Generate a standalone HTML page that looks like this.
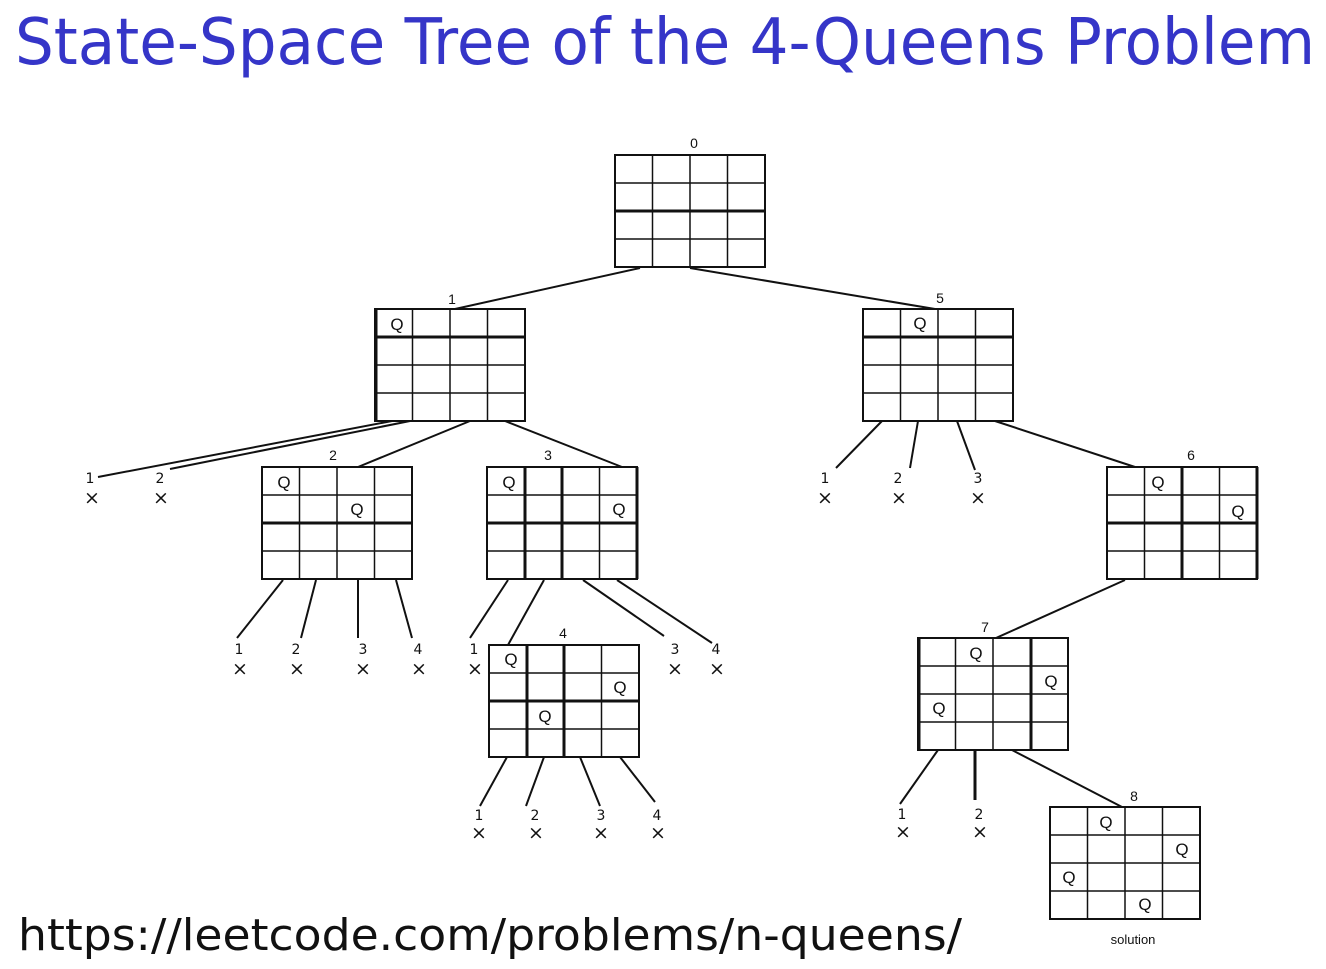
<!DOCTYPE html>
<html><head><meta charset="utf-8"><style>
html,body{margin:0;padding:0;background:#fff;}
svg{display:block;}
</style></head><body>
<svg width="1326" height="969" viewBox="0 0 1326 969" xmlns="http://www.w3.org/2000/svg">
<defs>
<g id="grid" fill="none" stroke="#111">
<rect x="0" y="0" width="150" height="112" stroke-width="2"/>
<line x1="37.5" y1="0" x2="37.5" y2="112" stroke-width="1.5"/>
<line x1="75" y1="0" x2="75" y2="112" stroke-width="1.5"/>
<line x1="112.5" y1="0" x2="112.5" y2="112" stroke-width="1.5"/>
<line x1="0" y1="28" x2="150" y2="28" stroke-width="1.5"/>
<line x1="0" y1="56" x2="150" y2="56" stroke-width="1.5"/>
<line x1="0" y1="84" x2="150" y2="84" stroke-width="1.5"/>
</g>
</defs>
<text x="15" y="64" font-family="'DejaVu Sans','Liberation Sans',sans-serif" font-size="64" fill="#3535c8" textLength="1300" lengthAdjust="spacingAndGlyphs">State-Space Tree of the 4-Queens Problem</text>
<text x="18" y="950" font-family="'DejaVu Sans','Liberation Sans',sans-serif" font-size="44" fill="#111" textLength="944" lengthAdjust="spacingAndGlyphs">https://leetcode.com/problems/n-queens/</text>

<g stroke="#111" stroke-width="2" fill="none">
<line x1="640" y1="268" x2="455" y2="309"/>
<line x1="690" y1="268" x2="935" y2="309"/>
<line x1="392" y1="421" x2="98" y2="477"/>
<line x1="410" y1="421" x2="170" y2="469"/>
<line x1="470" y1="421" x2="358" y2="467"/>
<line x1="505" y1="421" x2="622" y2="467"/>
<line x1="283" y1="580" x2="237" y2="638"/>
<line x1="316" y1="580" x2="301" y2="638"/>
<line x1="358" y1="580" x2="358" y2="638"/>
<line x1="396" y1="580" x2="412" y2="638"/>
<line x1="508" y1="580" x2="470" y2="638"/>
<line x1="544" y1="580" x2="508" y2="645"/>
<line x1="583" y1="580" x2="664" y2="636"/>
<line x1="617" y1="580" x2="712" y2="643"/>
<line x1="507" y1="757" x2="480" y2="806"/>
<line x1="544" y1="757" x2="526" y2="806"/>
<line x1="580" y1="757" x2="600" y2="806"/>
<line x1="620" y1="757" x2="655" y2="802"/>
<line x1="882" y1="421" x2="836" y2="468"/>
<line x1="918" y1="421" x2="910" y2="468"/>
<line x1="957" y1="421" x2="975" y2="470"/>
<line x1="995" y1="421" x2="1135" y2="467"/>
<line x1="1125" y1="580" x2="996" y2="638"/>
<line x1="938" y1="750" x2="900" y2="804"/>
<line x1="975" y1="750" x2="975" y2="800" stroke-width="3"/>
<line x1="1012" y1="750" x2="1122" y2="807"/>
</g>

<use href="#grid" x="615" y="155"/>
<use href="#grid" x="375" y="309"/>
<use href="#grid" x="863" y="309"/>
<use href="#grid" x="262" y="467"/>
<use href="#grid" x="487" y="467"/>
<use href="#grid" x="1107" y="467"/>
<use href="#grid" x="489" y="645"/>
<use href="#grid" x="918" y="638"/>
<use href="#grid" x="1050" y="807"/>
<g stroke="#111" stroke-width="3">
<line x1="615" y1="211" x2="765" y2="211"/>
<line x1="375" y1="337" x2="525" y2="337"/>
<line x1="863" y1="337" x2="1013" y2="337"/>
<line x1="262" y1="523" x2="412" y2="523"/>
<line x1="487" y1="523" x2="637" y2="523"/>
<line x1="1107" y1="523" x2="1257" y2="523"/>
<line x1="489" y1="701" x2="639" y2="701"/>
<line x1="376" y1="309" x2="376" y2="421"/>
<line x1="525" y1="467" x2="525" y2="579"/>
<line x1="562" y1="467" x2="562" y2="579"/>
<line x1="637" y1="467" x2="637" y2="579"/>
<line x1="1182" y1="467" x2="1182" y2="579"/>
<line x1="1257" y1="467" x2="1257" y2="579"/>
<line x1="527" y1="645" x2="527" y2="757"/>
<line x1="564" y1="645" x2="564" y2="757"/>
<line x1="919" y1="638" x2="919" y2="750"/>
<line x1="1031" y1="638" x2="1031" y2="750"/>
</g>

<g font-family="'Liberation Sans',sans-serif" font-size="17" fill="#111" text-anchor="middle">
<text x="397" y="330">Q</text>
<text x="920" y="329">Q</text>
<text x="284" y="488">Q</text>
<text x="357" y="515">Q</text>
<text x="509" y="488">Q</text>
<text x="619" y="515">Q</text>
<text x="1158" y="488">Q</text>
<text x="1238" y="517">Q</text>
<text x="511" y="665">Q</text>
<text x="620" y="693">Q</text>
<text x="545" y="722">Q</text>
<text x="976" y="659">Q</text>
<text x="1051" y="687">Q</text>
<text x="939" y="714">Q</text>
<text x="1106" y="828">Q</text>
<text x="1182" y="855">Q</text>
<text x="1069" y="883">Q</text>
<text x="1145" y="910">Q</text>
</g>

<g font-family="'Liberation Sans',sans-serif" font-size="14" fill="#111" text-anchor="middle">
<text x="694" y="148">0</text>
<text x="452" y="304">1</text>
<text x="940" y="303">5</text>
<text x="333" y="460">2</text>
<text x="548" y="460">3</text>
<text x="1191" y="460">6</text>
<text x="563" y="638">4</text>
<text x="985" y="632">7</text>
<text x="1134" y="801">8</text>
<text x="1133" y="944" font-size="13">solution</text>
</g>

<g font-family="'DejaVu Sans',sans-serif" font-size="14" fill="#111" text-anchor="middle">
<text x="90" y="483">1</text>
<text x="160" y="483">2</text>
<text x="239" y="654">1</text>
<text x="296" y="654">2</text>
<text x="363" y="654">3</text>
<text x="418" y="654">4</text>
<text x="474" y="654">1</text>
<text x="675" y="654">3</text>
<text x="716" y="654">4</text>
<text x="479" y="820">1</text>
<text x="535" y="820">2</text>
<text x="601" y="820">3</text>
<text x="657" y="820">4</text>
<text x="825" y="483">1</text>
<text x="898" y="483">2</text>
<text x="978" y="483">3</text>
<text x="902" y="819">1</text>
<text x="979" y="819">2</text>
</g>
<g font-family="'DejaVu Sans',sans-serif" font-size="19" fill="#111" text-anchor="middle">
<text x="92" y="504">×</text>
<text x="161" y="504">×</text>
<text x="240" y="675">×</text>
<text x="297" y="675">×</text>
<text x="363" y="675">×</text>
<text x="419" y="675">×</text>
<text x="475" y="675">×</text>
<text x="675" y="675">×</text>
<text x="717" y="675">×</text>
<text x="479" y="839">×</text>
<text x="536" y="839">×</text>
<text x="601" y="839">×</text>
<text x="658" y="839">×</text>
<text x="825" y="504">×</text>
<text x="899" y="504">×</text>
<text x="978" y="504">×</text>
<text x="903" y="838">×</text>
<text x="980" y="838">×</text>
</g>
</svg>
</body></html>
